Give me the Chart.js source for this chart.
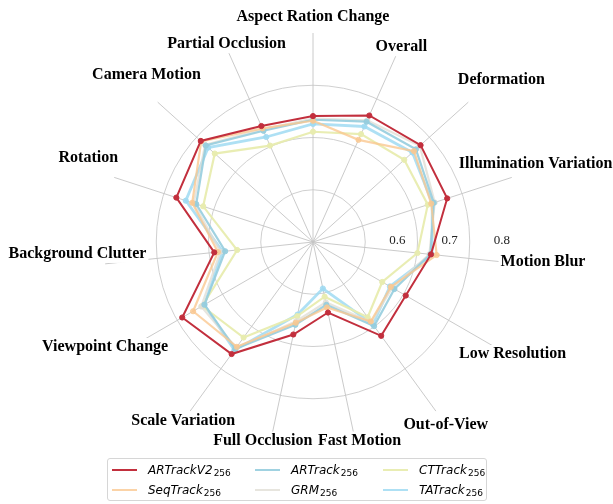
<!DOCTYPE html>
<html>
<head>
<meta charset="utf-8">
<script src="https://cdn.jsdelivr.net/npm/chart.js@4/dist/chart.umd.min.js"></script>
<style>
  html, body { margin: 0; padding: 0; background: #fff; }
  #wrap { position: relative; width: 613px; height: 504px; }
  #legend {
    position: absolute; left: 107px; top: 458px; width: 380px; height: 43px;
    border: 1px solid #d6d6d6; border-radius: 3px; box-sizing: border-box;
    display: grid; grid-template-columns: 143px 128px auto;
    grid-auto-flow: column; grid-template-rows: 20px 20px; padding: 1px 0 0 4px;
    font-family: "DejaVu Sans", sans-serif; font-size: 12px; color: #000;
  }
  .item { display: flex; align-items: center; white-space: nowrap; }
  .swatch { width: 25px; height: 0; border-top-width: 2px; border-top-style: solid; margin-right: 11px; }
  .item i { font-style: oblique; }
  .item sub { font-size: 9px; position: relative; top: 3px; vertical-align: baseline; margin-left: 1px; }
</style>
</head>
<body>
<div id="wrap">
  <canvas id="chart1"></canvas>
  <div id="legend"></div>
</div>
<script>
const categories = [
  "Aspect Ration Change", "Overall", "Deformation", "Illumination Variation",
  "Motion Blur", "Low Resolution", "Out-of-View", "Fast Motion", "Full Occlusion",
  "Scale Variation", "Viewpoint Change", "Background Clutter", "Rotation",
  "Camera Motion", "Partial Occlusion",
];

const artrackV2 = [0.691, 0.715, 0.727, 0.720, 0.677, 0.655, 0.672, 0.588, 0.631, 0.715, 0.739, 0.640, 0.725, 0.739, 0.693];
const seqTrack  = [0.682, 0.664, 0.710, 0.688, 0.688, 0.622, 0.638, 0.578, 0.608, 0.698, 0.715, 0.633, 0.693, 0.738, 0.688];
const artrack   = [0.684, 0.702, 0.715, 0.693, 0.676, 0.630, 0.649, 0.573, 0.612, 0.703, 0.690, 0.619, 0.685, 0.726, 0.683];
const grm       = [0.686, 0.705, 0.725, 0.695, 0.674, 0.625, 0.640, 0.568, 0.605, 0.700, 0.697, 0.628, 0.690, 0.728, 0.686];
const ctTrack   = [0.661, 0.676, 0.685, 0.681, 0.651, 0.603, 0.628, 0.557, 0.595, 0.676, 0.695, 0.596, 0.671, 0.703, 0.652];
const taTrack   = [0.676, 0.692, 0.706, 0.690, 0.679, 0.620, 0.645, 0.541, 0.592, 0.706, 0.690, 0.624, 0.706, 0.720, 0.670];

const tickLabels = [0.6, 0.7, 0.8];
const subscript = "256";

// where each category label sits: px beyond the 0.8 ring, and a small turn (deg) off its spoke
const labelGap = [42, 31, 66, 53, 48, 46, 43, 21, 22, 38, 50, 53, 57, 53, 33];
const labelTurn = [0, 0.4, 1.2, -1.3, -1, -0.7, 0, -1.2, 2.2, 0, 3.2, 3.1, 2.5, 3.1, 0.4];

const series = (name, values, color, width) => ({
  label: name,
  data: values,
  borderColor: color,
  backgroundColor: color,
  pointBackgroundColor: color,
  pointBorderColor: color,
  borderWidth: width,
  pointRadius: 2.6,
  pointBorderWidth: 1,
  pointHoverRadius: 2.6,
  fill: false,
  tension: 0,
});

const data = {
  labels: categories,
  datasets: [
    series("ARTrackV2", artrackV2, "#c22f3d", 2),
    series("SeqTrack", seqTrack, "rgba(250, 200, 145, 0.8)", 2.2),
    series("ARTrack", artrack, "rgba(150, 205, 222, 0.9)", 2.2),
    series("GRM", grm, "rgba(225, 222, 214, 0.8)", 2.2),
    series("CTTrack", ctTrack, "rgba(232, 236, 175, 0.95)", 2.2),
    series("TATrack", taTrack, "rgba(160, 218, 242, 0.85)", 2.8),
  ],
};

const axisText = {
  id: "axisText",
  afterDraw(chart) {
    const s = chart.scales.r;
    const ctx = chart.ctx;
    const r8 = s.getDistanceFromCenterForValue(0.8);
    ctx.save();
    ctx.textAlign = "center";
    ctx.textBaseline = "middle";
    ctx.font = 'bold 16px "Liberation Serif", serif';
    const spots = categories.map((lab, i) => {
      const a = s.getIndexAngle(i) + (labelTurn[i] * Math.PI) / 180 - Math.PI / 2;
      const d = r8 + labelGap[i];
      return { x: s.xCenter + Math.cos(a) * d, y: s.yCenter + Math.sin(a) * d };
    });
    // white boxes first so they never hide a neighbour's text
    categories.forEach((lab, i) => {
      const p = spots[i];
      const w = ctx.measureText(lab).width;
      ctx.fillStyle = "#fff";
      ctx.fillRect(p.x - w / 2 - 2, p.y - 9, w + 4, 18);
    });
    ctx.fillStyle = "#000";
    categories.forEach((lab, i) => ctx.fillText(lab, spots[i].x, spots[i].y));
    ctx.font = '13px "Liberation Serif", serif';
    ctx.fillStyle = "#222";
    tickLabels.forEach((v) => {
      const r = s.getDistanceFromCenterForValue(v);
      ctx.fillText(v.toFixed(1), s.xCenter + r + 6, s.yCenter - 1);
    });
    ctx.restore();
  },
};

const chart = new Chart(document.getElementById("chart1"), {
  type: "radar",
  data,
  options: {
    responsive: true,
    maintainAspectRatio: false,
    animation: false,
    layout: { padding: { left: 104, right: 91, top: 33, bottom: 53 } },
    plugins: { legend: { display: false }, tooltip: { enabled: false } },
    scales: {
      r: {
        min: 0.45,
        max: 0.85,
        ticks: { display: false, stepSize: 0.1 },
        pointLabels: { display: false },
        grid: {
          circular: true,
          color: (c) => (c.tick && c.tick.value > 0.81 ? "rgba(0,0,0,0)" : "#c9c9c9"),
          lineWidth: 0.9,
        },
        angleLines: { color: "#c4c4c4", lineWidth: 0.9 },
      },
    },
  },
  plugins: [axisText],
});

// legend in the same 3-column layout, built from the chart's datasets
const legendEl = document.getElementById("legend");
chart.data.datasets.forEach((ds) => {
  const item = document.createElement("div");
  item.className = "item";
  item.innerHTML = `<span class="swatch" style="border-top-color:${ds.borderColor}"></span><i>${ds.label}</i><sub>${subscript}</sub>`;
  legendEl.appendChild(item);
});
</script>
</body>
</html>
